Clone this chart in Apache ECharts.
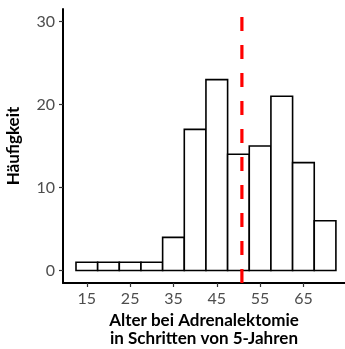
<!DOCTYPE html>
<html>
<head>
<meta charset="utf-8">
<script src="https://cdn.jsdelivr.net/npm/echarts@6/dist/echarts.min.js"></script>
<style>
  html, body { margin: 0; padding: 0; background: #fff; }
  #chart { width: 345px; height: 349px; }
</style>
</head>
<body>
<div id="chart"></div>
<script>
// Klassenmitten (5-Jahres-Schritte) und Häufigkeiten
const binCenters = [15, 20, 25, 30, 35, 40, 45, 50, 55, 60, 65, 70];
const counts = [1, 1, 1, 1, 4, 17, 23, 14, 15, 21, 13, 6];
const binWidth = 5;
const xTicks = [15, 25, 35, 45, 55, 65];
const yTicks = [0, 10, 20, 30];
const meanAge = 50.8; // rote gestrichelte Linie

const fontFamily = 'Lato, "Noto Sans", sans-serif';

const chart = echarts.init(document.getElementById('chart'));

const option = {
  animation: false,
  grid: { left: 63, right: 0, top: 9, bottom: 66, outerBoundsMode: 'none', containLabel: false },
  xAxis: {
    type: 'value',
    min: 9.5,
    max: 74.6,
    splitLine: { show: false },
    axisLine: { onZero: false, lineStyle: { color: '#000', width: 2 } },
    axisTick: { customValues: xTicks, length: 4, lineStyle: { color: '#333', width: 1.2 } },
    axisLabel: { customValues: xTicks, margin: 8, color: '#4d4d4d', fontSize: 16, fontFamily: fontFamily },
    name: 'Alter bei Adrenalektomie\nin Schritten von 5-Jahren',
    nameLocation: 'middle',
    nameGap: 29,
    nameTextStyle: { color: '#000', fontSize: 17, fontWeight: 'bold', fontFamily: fontFamily, lineHeight: 18, verticalAlign: 'top' }
  },
  yAxis: {
    type: 'value',
    min: -1.5,
    max: 31.5,
    splitLine: { show: false },
    axisLine: { onZero: false, lineStyle: { color: '#000', width: 2 } },
    axisTick: { customValues: yTicks, length: 4, lineStyle: { color: '#333', width: 1.2 } },
    axisLabel: { customValues: yTicks, margin: 8, color: '#4d4d4d', fontSize: 16, fontFamily: fontFamily },
    name: 'Häufigkeit',
    nameLocation: 'middle',
    nameGap: 41,
    nameTextStyle: { color: '#000', fontSize: 17, fontWeight: 'bold', fontFamily: fontFamily }
  },
  series: [
    {
      type: 'custom',
      data: binCenters.map((c, i) => [c, counts[i]]),
      renderItem: function (params, api) {
        const c = api.value(0);
        const n = api.value(1);
        const p0 = api.coord([c - binWidth / 2, 0]);
        const p1 = api.coord([c + binWidth / 2, n]);
        return {
          type: 'rect',
          shape: { x: p0[0], y: p1[1], width: p1[0] - p0[0], height: p0[1] - p1[1] },
          style: { fill: '#fff', stroke: '#000', lineWidth: 1.6 }
        };
      },
      z: 2
    },
    {
      type: 'custom',
      data: [[meanAge]],
      renderItem: function (params, api) {
        const bottom = api.coord([api.value(0), -1.5]);
        const top = api.coord([api.value(0), 31.5]);
        return {
          type: 'line',
          shape: { x1: bottom[0], y1: bottom[1], x2: top[0], y2: top[1] },
          style: { stroke: '#ff0000', lineWidth: 3.2, lineDash: [14, 14] }
        };
      },
      z: 3
    }
  ]
};

chart.setOption(option);
</script>
</body>
</html>
